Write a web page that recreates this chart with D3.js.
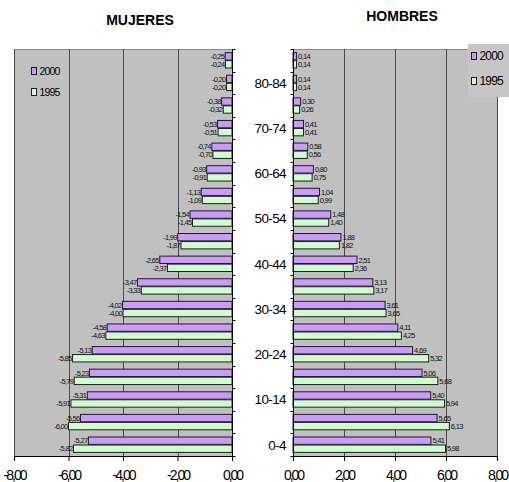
<!DOCTYPE html>
<html>
<head>
<meta charset="utf-8">
<script src="https://cdn.jsdelivr.net/npm/d3@7/dist/d3.min.js"></script>
<style>
  body { margin: 0; background: #fff; }
  svg { display: block; }
</style>
</head>
<body>
<svg id="chart" width="509" height="482"></svg>
<script>
// Age groups, youngest first (drawn bottom to top)
const ageGroups = ["0-4", "5-9", "10-14", "15-19", "20-24", "25-29", "30-34", "35-39",
  "40-44", "45-49", "50-54", "55-59", "60-64", "65-69", "70-74", "75-79", "80-84", "85+"];
const years = ["2000", "1995"];

// Share of population (%) by age group; women drawn to the left as negatives
const women2000 = [-5.27, -5.56, -5.31, -5.23, -5.13, -4.58, -4.02, -3.47, -2.65, -1.99,
  -1.54, -1.13, -0.93, -0.74, -0.53, -0.38, -0.20, -0.25];
const women1995 = [-5.82, -6.00, -5.91, -5.79, -5.85, -4.63, -4.00, -3.33, -2.37, -1.87,
  -1.45, -1.09, -0.91, -0.70, -0.51, -0.32, -0.20, -0.24];
const men2000 = [5.41, 5.65, 5.40, 5.06, 4.69, 4.11, 3.61, 3.13, 2.51, 1.88,
  1.48, 1.04, 0.80, 0.58, 0.41, 0.30, 0.14, 0.14];
const men1995 = [5.98, 6.13, 5.94, 5.68, 5.32, 4.25, 3.65, 3.17, 2.36, 1.82,
  1.40, 0.99, 0.75, 0.56, 0.41, 0.26, 0.14, 0.14];

const womenTicks = [-8, -6, -4, -2, 0];
const menTicks = [0, 2, 4, 6, 8];
const panelTitles = ["MUJERES", "HOMBRES"];
const seriesColors = { "2000": "#cc99ff", "1995": "#ccffcc" };

const NARROW = "'Liberation Sans Narrow', 'Liberation Sans', Arial, sans-serif";
const SANS = "'Liberation Sans', Arial, sans-serif";

const svg = d3.select("#chart");
const plotTop = 49, plotBottom = 456;

const y = d3.scaleBand()
  .domain(ageGroups.slice().reverse())
  .range([plotTop, plotBottom])
  .paddingInner(0.32)
  .paddingOuter(0.16);
const ySub = d3.scaleBand()
  .domain(years)
  .range([0, y.bandwidth()])
  .paddingInner(0.08);

const xWomen = d3.scaleLinear().domain([-8, 0]).range([14, 232]);
const xMen = d3.scaleLinear().domain([0, 8]).range([293, 497]);

const esLocale = d3.formatLocale({
  decimal: ",", thousands: ".", grouping: [3], currency: ["", " €"], minus: "-"
});
const fmt = esLocale.format(".2f");

function drawPanel(x, ticks, s2000, s1995, side) {
  const g = svg.append("g");
  const [d0, d1] = x.domain();
  const zeroX = x(0);

  // plot background
  g.append("rect")
    .attr("x", x(d0)).attr("y", plotTop)
    .attr("width", x(d1) - x(d0)).attr("height", plotBottom - plotTop)
    .attr("fill", "#c0c0c0");

  // top border
  g.append("line")
    .attr("x1", x(d0)).attr("x2", x(d1))
    .attr("y1", plotTop + 0.5).attr("y2", plotTop + 0.5)
    .attr("stroke", "#8a8a8a");

  // vertical gridlines
  g.selectAll("line.grid")
    .data(ticks.filter(t => t !== 0))
    .join("line")
    .attr("class", "grid")
    .attr("x1", d => Math.round(x(d)) + 0.5).attr("x2", d => Math.round(x(d)) + 0.5)
    .attr("y1", plotTop).attr("y2", plotBottom)
    .attr("stroke", "#4a4a4a").attr("stroke-width", 1);

  const rows = ageGroups.map((age, i) => ({ age, "2000": s2000[i], "1995": s1995[i] }));
  const cells = rows.flatMap(r => years.map(yr => ({ age: r.age, year: yr, value: r[yr] })));

  // bars
  g.selectAll("rect.bar")
    .data(cells)
    .join("rect")
    .attr("class", "bar")
    .attr("x", d => Math.min(x(d.value), zeroX))
    .attr("y", d => y(d.age) + ySub(d.year))
    .attr("width", d => Math.abs(x(d.value) - zeroX))
    .attr("height", ySub.bandwidth())
    .attr("fill", d => seriesColors[d.year])
    .attr("stroke", "#1e1e1e")
    .attr("stroke-width", 1);

  // value labels
  g.selectAll("text.val")
    .data(cells)
    .join("text")
    .attr("class", "val")
    .attr("x", d => d.value < 0 ? x(d.value) - 1 : x(d.value) + 1.5)
    .attr("y", d => y(d.age) + ySub(d.year) + ySub.bandwidth() / 2)
    .attr("dy", "0.36em")
    .attr("text-anchor", d => d.value < 0 ? "end" : "start")
    .attr("font-family", NARROW)
    .attr("font-size", 7.5)
    .attr("letter-spacing", -0.7)
    .attr("fill", "#111")
    .text(d => fmt(d.value));

  // category axis line at zero with ticks between age groups
  g.append("line")
    .attr("x1", Math.round(zeroX) + 0.5).attr("x2", Math.round(zeroX) + 0.5)
    .attr("y1", plotTop).attr("y2", plotBottom)
    .attr("stroke", "#000");
  const bounds = d3.range(ageGroups.length + 1).map(i => y.range()[0] + i * y.step());
  g.selectAll("line.ctick")
    .data(bounds)
    .join("line")
    .attr("class", "ctick")
    .attr("x1", Math.round(zeroX) + 0.5)
    .attr("x2", Math.round(zeroX) + 0.5 + (side === "left" ? 3 : -3))
    .attr("y1", d => Math.round(d) + 0.5).attr("y2", d => Math.round(d) + 0.5)
    .attr("stroke", "#000");

  // value axis at the bottom
  const axis = d3.axisBottom(x).tickValues(ticks).tickFormat(fmt).tickSize(5).tickSizeOuter(0);
  const ax = g.append("g")
    .attr("transform", `translate(0,${plotBottom})`)
    .call(axis);
  ax.select(".domain").attr("stroke", "#000");
  ax.selectAll(".tick line").attr("stroke", "#000");
  ax.selectAll(".tick text")
    .attr("y", 14)
    .attr("font-family", NARROW)
    .attr("font-size", 14)
    .attr("letter-spacing", -2)
    .attr("fill", "#000");
  return g;
}

drawPanel(xWomen, womenTicks, women2000, women1995, "left");
drawPanel(xMen, menTicks, men2000, men1995, "right");

// age group labels (every other group) beside the men's axis
svg.selectAll("text.age")
  .data(ageGroups.filter((a, i) => i % 2 === 0 && i < 17))
  .join("text")
  .attr("class", "age")
  .attr("x", 286)
  .attr("y", d => y(d) + y.bandwidth() / 2)
  .attr("dy", "0.36em")
  .attr("text-anchor", "end")
  .attr("font-family", NARROW)
  .attr("font-size", 13.5)
  .attr("letter-spacing", -0.6)
  .attr("fill", "#000")
  .text(d => d);

// panel titles
svg.append("text")
  .attr("x", 140).attr("y", 25)
  .attr("text-anchor", "middle")
  .attr("font-family", SANS).attr("font-weight", "bold").attr("font-size", 14)
  .text(panelTitles[0]);
svg.append("text")
  .attr("x", 402).attr("y", 20.5)
  .attr("text-anchor", "middle")
  .attr("font-family", SANS).attr("font-weight", "bold").attr("font-size", 14)
  .text(panelTitles[1]);

// legend: small swatch followed by the year
function legend(g, x0, y0, gap, fontSize) {
  years.forEach((yr, i) => {
    g.append("rect")
      .attr("x", x0).attr("y", y0 + i * gap)
      .attr("width", 5).attr("height", 7)
      .attr("fill", seriesColors[yr])
      .attr("stroke", "#1e1e1e");
    g.append("text")
      .attr("x", x0 + 8).attr("y", y0 + i * gap + 7)
      .attr("font-family", SANS).attr("font-size", fontSize)
      .attr("letter-spacing", -0.8)
      .text(yr);
  });
}
// legend inside the women's panel
legend(svg.append("g"), 31.5, 67.5, 21, 10.5);

// boxed legend beside the men's panel
const lg = svg.append("g");
lg.append("rect")
  .attr("x", 468).attr("y", 44)
  .attr("width", 41).attr("height", 53)
  .attr("fill", "#c6c6c6");
legend(lg, 471.5, 52.5, 25, 12);
</script>
</body>
</html>
